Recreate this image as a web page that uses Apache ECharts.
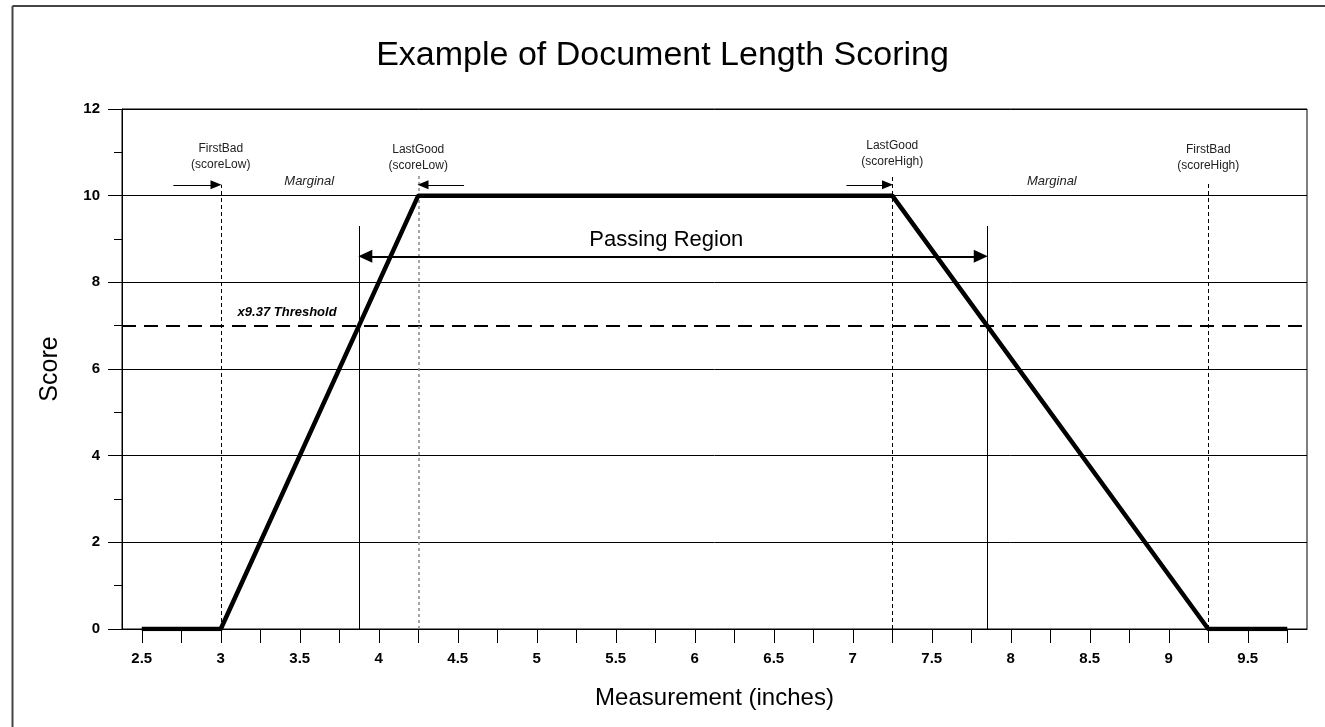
<!DOCTYPE html>
<html><head><meta charset="utf-8">
<script src="https://cdn.jsdelivr.net/npm/echarts@6/dist/echarts.min.js"></script>
<style>html,body{margin:0;padding:0;background:#fff}#c{width:1325px;height:727px}</style>
</head><body><div id="c"></div>
<script>
// ---- data ----
const titleText = 'Example of Document Length Scoring';
const xName = 'Measurement (inches)';
const yName = 'Score';
const xTickValues = [2.5,2.75,3,3.25,3.5,3.75,4,4.25,4.5,4.75,5,5.25,5.5,5.75,6,6.25,6.5,6.75,7,7.25,7.5,7.75,8,8.25,8.5,8.75,9,9.25,9.5,9.75];
const xLabelValues = [2.5,3,3.5,4,4.5,5,5.5,6,6.5,7,7.5,8,8.5,9,9.5];
const scoreX = [2.5,3,4.25,7.25,9.25,9.75];
const scoreY = [0,0,10,10,0,0];
const thresholdY = 7;
const thresholdLabel = 'x9.37 Threshold';
const thresholdLabelPos = [3.42,7.31];
const limitX = [3,4.25,7.25,9.25];
const limitTop = [10.25,10.5,10.5,10.3];
const limitNames = ['FirstBad\n(scoreLow)','LastGood\n(scoreLow)','LastGood\n(scoreHigh)','FirstBad\n(scoreHigh)'];
const limitLabelY = [10.9,10.87,10.96,10.87];
const passX = [3.875,7.85];
const passTop = 9.3;
const passArrowY = 8.6;
const passLabel = 'Passing Region';
const passLabelPos = [5.82,8.97];
const pointerFrom = [2.7,4.54,6.96];
const pointerTo = [2.97,4.28,7.22];
const pointerY = 10.25;
const marginalLabel = 'Marginal';
const marginalX = [3.56,8.26];
const marginalY = 10.33;

// ---- chart ----
const chart = echarts.init(document.getElementById('c'), null, {renderer:'canvas'});
const FONT = '"Liberation Sans", Arial, sans-serif';
const limitStyles = [
  {color:'#000', type:[4,3], width:1},
  {color:'#888', type:[3,3], width:1.5},
  {color:'#000', type:[4,3], width:1},
  {color:'#000', type:[4,3], width:1}
];
const textSeries = (data, style) => ({
  type:'scatter', symbolSize:1, itemStyle:{color:'rgba(0,0,0,0)', opacity:1}, silent:true, z:10,
  data: data,
  label:Object.assign({show:true, position:'inside', formatter:p=>p.data[2], fontFamily:FONT, color:'#000', opacity:1}, style)
});
const option = {
  animation:false,
  backgroundColor:'#fff',
  title:{text:titleText, left:'center', top:34, textStyle:{fontFamily:FONT, fontSize:34, fontWeight:'normal', color:'#000'}},
  graphic:[
    {type:'line', shape:{x1:12.5,y1:6,x2:1325,y2:6}, style:{stroke:'#444', lineWidth:2}, silent:true},
    {type:'line', shape:{x1:12.5,y1:6,x2:12.5,y2:727}, style:{stroke:'#444', lineWidth:2}, silent:true}
  ],
  grid:{left:122, right:18, top:109, bottom:98, show:true, borderColor:'#000', borderWidth:1, backgroundColor:'transparent'},
  xAxis:{type:'value', min:2.375, max:9.875, name:xName, nameLocation:'middle', nameGap:57,
    nameTextStyle:{fontFamily:FONT, fontSize:24, color:'#000'},
    axisLine:{show:true, onZero:false, lineStyle:{color:'#000', width:1}},
    axisTick:{show:true, inside:false, length:14, customValues:xTickValues, lineStyle:{color:'#000'}},
    axisLabel:{customValues:xLabelValues, margin:22, fontFamily:FONT, fontSize:15, fontWeight:'bold', color:'#000', formatter:v=>String(v)},
    splitLine:{show:false}},
  yAxis:{type:'value', min:0, max:12, interval:2, name:yName, nameLocation:'middle', nameGap:59,
    nameTextStyle:{fontFamily:FONT, fontSize:25, color:'#000'},
    axisLine:{show:true, lineStyle:{color:'#000', width:1}},
    axisTick:{show:true, inside:false, length:14, lineStyle:{color:'#000'}},
    minorTick:{show:true, splitNumber:2, length:8, lineStyle:{color:'#000'}},
    axisLabel:{margin:22, fontFamily:FONT, fontSize:15, fontWeight:'bold', color:'#000'},
    splitLine:{show:true, lineStyle:{color:'#000', width:1}}},
  series:[
    {type:'line', data:scoreX.map((x,i)=>[x,scoreY[i]]), showSymbol:false, symbol:'none', z:5,
      lineStyle:{color:'#000', width:4.5}},
    {type:'line', data:[], markLine:{silent:true, symbol:['none','none'], label:{show:false},
      data:[[{coord:[2.375,thresholdY], lineStyle:{color:'#000', width:2, type:[14,8]}},{coord:[9.875,thresholdY]}]]
        .concat(limitX.map((x,i)=>[{coord:[x,0], lineStyle:limitStyles[i]},{coord:[x,limitTop[i]]}]))
        .concat(passX.map(x=>[{coord:[x,0], lineStyle:{color:'#000', width:1, type:'solid'}},{coord:[x,passTop]}]))
    }},
    {type:'line', data:[], markLine:{silent:true, symbol:['triangle','triangle'], symbolSize:[13,14], label:{show:false},
      lineStyle:{color:'#000', width:2, type:'solid'},
      data:[[{coord:[passX[0]+0.04,passArrowY]},{coord:[passX[1]-0.04,passArrowY]}]]}},
    {type:'line', data:[], markLine:{silent:true, symbol:['none','triangle'], symbolSize:[9,11], label:{show:false},
      lineStyle:{color:'#000', width:1, type:'solid'},
      data:pointerFrom.map((x,i)=>[{coord:[x,pointerY]},{coord:[pointerTo[i],pointerY]}])}},
    textSeries(limitX.map((x,i)=>[x,limitLabelY[i],limitNames[i]]), {fontSize:12, color:'#222', lineHeight:16}),
    textSeries(marginalX.map(x=>[x,marginalY,marginalLabel]), {fontSize:13, fontStyle:'italic', color:'#222'}),
    textSeries([[thresholdLabelPos[0],thresholdLabelPos[1],thresholdLabel]], {fontSize:13, fontStyle:'italic', fontWeight:'bold'}),
    textSeries([[passLabelPos[0],passLabelPos[1],passLabel]], {fontSize:22})
  ]
};
chart.setOption(option);
</script></body></html>
